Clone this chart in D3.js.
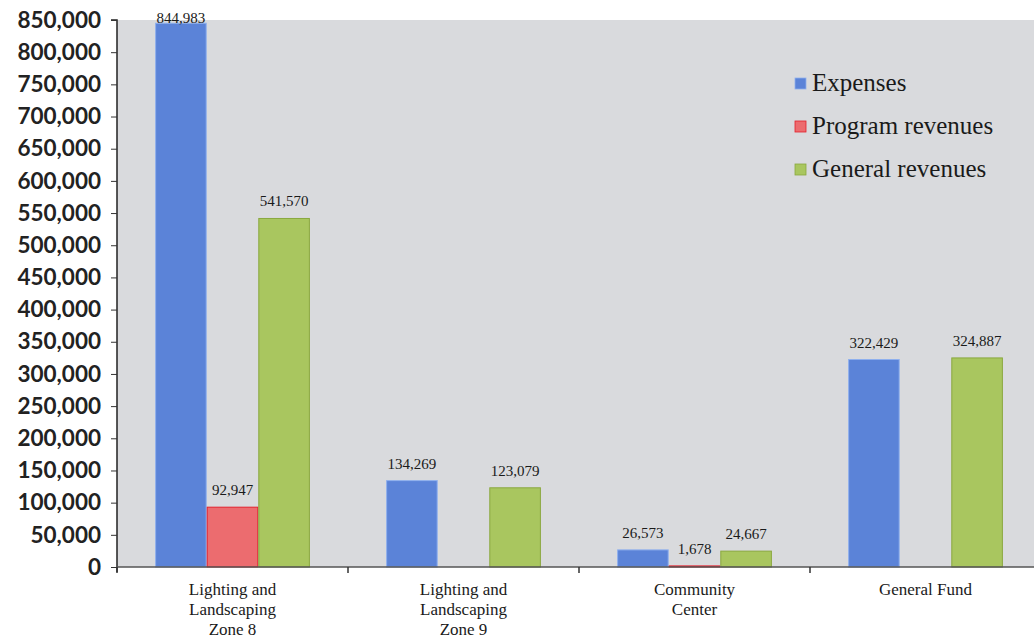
<!DOCTYPE html>
<html>
<head>
<meta charset="utf-8">
<script src="https://cdn.jsdelivr.net/npm/d3@7"></script>
<style>
  html, body { margin: 0; padding: 0; background: #ffffff; }
  svg { display: block; }
</style>
</head>
<body>
<svg id="chart" width="1034" height="641"></svg>
<script>
const categories = [
  ["Lighting and", "Landscaping", "Zone 8"],
  ["Lighting and", "Landscaping", "Zone 9"],
  ["Community", "Center"],
  ["General Fund"]
];
const categoryKeys = ["z8", "z9", "cc", "gf"];
const seriesNames = ["Expenses", "Program revenues", "General revenues"];
const expenses = [844983, 134269, 26573, 322429];
const programRevenues = [92947, null, 1678, null];
const generalRevenues = [541570, 123079, 24667, 324887];
const yTicks = [0, 50000, 100000, 150000, 200000, 250000, 300000, 350000, 400000,
  450000, 500000, 550000, 600000, 650000, 700000, 750000, 800000, 850000];

const seriesValues = [expenses, programRevenues, generalRevenues];
const fills = ["#5b83d8", "#ec6c6f", "#a9c65f"];
const strokes = ["#8fb0ee", "#e3202c", "#8aa83e"];

const svg = d3.select("#chart");
const mLeft = 117, mRight = 1034, mTop = 20, mBottom = 567;

svg.append("rect").attr("x", mLeft).attr("y", mTop)
  .attr("width", mRight - mLeft).attr("height", mBottom - mTop)
  .attr("fill", "#d9dadd");

const y = d3.scaleLinear().domain([0, 850000]).range([mBottom, mTop]);
const x0 = d3.scaleBand().domain(categoryKeys).range([mLeft, mLeft + 4 * 231]).padding(0);
const bw = x0.bandwidth();
const x1 = d3.scaleBand().domain(seriesNames).range([0.165 * bw, 0.835 * bw]).padding(0);

const fmt = d3.format(",");

const groups = svg.append("g").selectAll("g")
  .data(categoryKeys).join("g")
  .attr("transform", d => `translate(${x0(d)},0)`);

groups.each(function(key, ci) {
  const g = d3.select(this);
  seriesNames.forEach((s, si) => {
    const v = seriesValues[si][ci];
    if (v == null) return;
    const bx = x1(s), bwid = x1.bandwidth();
    const h = Math.max(1, mBottom - y(v));
    g.append("rect")
      .attr("x", bx + 0.5).attr("y", mBottom - h)
      .attr("width", bwid - 1).attr("height", h)
      .attr("fill", fills[si])
      .attr("stroke", strokes[si]).attr("stroke-width", 1);
    g.append("text")
      .attr("x", bx + bwid / 2).attr("y", Math.max(y(v) - 12, 23))
      .attr("text-anchor", "middle")
      .attr("font-family", "Liberation Serif, Times New Roman, serif")
      .attr("font-size", 15).attr("fill", "#1a1a1a")
      .text(fmt(v));
  });
});

// y axis
const yAxis = d3.axisLeft(y).tickValues(yTicks).tickSize(6).tickPadding(10).tickFormat(fmt);
const yg = svg.append("g").attr("transform", `translate(${mLeft},0)`).call(yAxis);
yg.select(".domain").attr("stroke", "#222").attr("stroke-width", 1.5)
  .attr("d", `M-6,${mTop}H0V${mBottom + 5}`);
yg.selectAll(".tick line").attr("stroke", "#333");
yg.selectAll(".tick text")
  .attr("font-family", "Lato, Open Sans, sans-serif")
  .attr("font-weight", "bold").attr("font-size", 22.5).attr("fill", "#222");

// x axis
svg.append("line").attr("x1", mLeft).attr("x2", mRight).attr("y1", mBottom).attr("y2", mBottom)
  .attr("stroke", "#555").attr("stroke-width", 1.5);
const xAxis = d3.axisBottom(x0).tickSize(0).tickFormat("");
const xg = svg.append("g").attr("transform", `translate(0,${mBottom})`).call(xAxis);
xg.select(".domain").remove();
xg.selectAll(".bound").data(categoryKeys).join("line")
  .attr("class", "bound")
  .attr("x1", d => x0(d)).attr("x2", d => x0(d))
  .attr("y1", 0).attr("y2", 6).attr("stroke", "#333").attr("stroke-width", 1.5);

xg.selectAll(".tick").each(function(key, i) {
  const t = d3.select(this).append("text")
    .attr("text-anchor", "middle")
    .attr("font-family", "Liberation Serif, Times New Roman, serif")
    .attr("font-size", 17).attr("fill", "#1a1a1a");
  categories[i].forEach((line, li) => {
    t.append("tspan").attr("x", 0).attr("y", 28 + li * 20).text(line);
  });
});

// legend
const legend = svg.append("g").attr("transform", "translate(795,83)");
seriesNames.forEach((s, i) => {
  const row = legend.append("g").attr("transform", `translate(0,${i * 43})`);
  row.append("rect").attr("x", 0).attr("y", -5).attr("width", 11).attr("height", 11)
    .attr("fill", fills[i]).attr("stroke", strokes[i]).attr("stroke-width", 0.8);
  row.append("text").attr("x", 17).attr("y", 8)
    .attr("font-family", "Liberation Serif, Times New Roman, serif")
    .attr("font-size", 25).attr("fill", "#1a1a1a").text(s);
});
</script>
</body>
</html>
